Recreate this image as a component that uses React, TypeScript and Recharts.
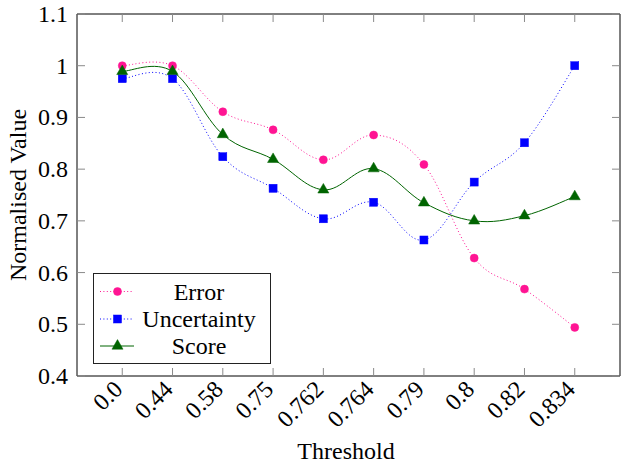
import React from 'react';
import { LineChart, Line, XAxis, YAxis, Legend } from 'recharts';

// Threshold categories along the x axis
const thresholds = ['0.0', '0.44', '0.58', '0.75', '0.762', '0.764', '0.79', '0.8', '0.82', '0.834'];
// Normalised metric values at each threshold
const errorValues = [1.0, 1.0, 0.911, 0.876, 0.818, 0.866, 0.809, 0.628, 0.568, 0.494];
const uncertaintyValues = [0.975, 0.975, 0.824, 0.763, 0.704, 0.736, 0.663, 0.775, 0.851, 1.0];
const scoreValues = [0.989, 0.989, 0.867, 0.819, 0.76, 0.801, 0.735, 0.7, 0.71, 0.747];
const yTicks = [0.4, 0.5, 0.6, 0.7, 0.8, 0.9, 1.0, 1.1];

const xIndexTicks = thresholds.map((_, i) => i);
const data = thresholds.map((t, i) => ({
  idx: i,
  label: t,
  error: errorValues[i],
  uncertainty: uncertaintyValues[i],
  score: scoreValues[i],
}));

const FONT = "'Liberation Serif', 'Times New Roman', serif";
const FS = 24;
const textStyle = { fontFamily: FONT, fontSize: FS };
const PINK = '#ff1493';
const BLUE = '#0000ff';
const GREEN = '#006400';
const TICK_COLOR = '#8a8a8a';
const TICK_LEN = 8;

// Cardinal-style smoothing similar to TikZ "smooth" plots
const K = 0.18;
const smoothCurve = (context: any) => {
  let pts: [number, number][] = [];
  return {
    areaStart() {},
    areaEnd() {},
    lineStart() {
      pts = [];
    },
    lineEnd() {
      if (!pts.length) return;
      context.moveTo(pts[0][0], pts[0][1]);
      for (let i = 0; i < pts.length - 1; i++) {
        const p0 = pts[i - 1] || pts[i];
        const p1 = pts[i];
        const p2 = pts[i + 1];
        const p3 = pts[i + 2] || p2;
        context.bezierCurveTo(
          p1[0] + (p2[0] - p0[0]) * K,
          p1[1] + (p2[1] - p0[1]) * K,
          p2[0] - (p3[0] - p1[0]) * K,
          p2[1] - (p3[1] - p1[1]) * K,
          p2[0],
          p2[1]
        );
      }
    },
    point(x: number, y: number) {
      pts.push([+x, +y]);
    },
  };
};

const circleMark = (cx: number, cy: number, key?: any) => (
  <circle key={key} cx={cx} cy={cy} r={4} fill={PINK} stroke={PINK} strokeWidth={0.5} />
);
const squareMark = (cx: number, cy: number, key?: any) => (
  <rect key={key} x={cx - 4} y={cy - 4} width={8} height={8} fill={BLUE} stroke={BLUE} strokeWidth={0.5} />
);
const triangleMark = (cx: number, cy: number, key?: any) => {
  const r = 6.4;
  const h = r * Math.cos(Math.PI / 6);
  return (
    <polygon
      key={key}
      points={`${cx},${cy - r} ${cx + h},${cy + r / 2} ${cx - h},${cy + r / 2}`}
      fill={GREEN}
      stroke={GREEN}
      strokeWidth={0.5}
    />
  );
};

const series = [
  { key: 'error', name: 'Error', color: PINK, dash: '1 2.4', mark: circleMark },
  { key: 'uncertainty', name: 'Uncertainty', color: BLUE, dash: '1 2.4', mark: squareMark },
  { key: 'score', name: 'Score', color: GREEN, dash: undefined, mark: triangleMark },
];

const BottomTick = (props: any) => {
  const { x, y, payload } = props;
  const label = thresholds[payload.value];
  return (
    <g>
      <line x1={x} y1={y} x2={x} y2={y - TICK_LEN} stroke={TICK_COLOR} strokeWidth={1} />
      <text
        x={0}
        y={0}
        transform={`translate(${x - 4},${y + 9}) rotate(-45)`}
        textAnchor="end"
        dominantBaseline="central"
        style={textStyle}
        fill="#000"
      >
        {label}
      </text>
    </g>
  );
};

const TopTick = (props: any) => {
  const { x, y } = props;
  return <line x1={x} y1={y} x2={x} y2={y + TICK_LEN} stroke={TICK_COLOR} strokeWidth={1} />;
};

const LeftTick = (props: any) => {
  const { x, y, payload } = props;
  const v = Math.round(payload.value * 10) / 10;
  return (
    <g>
      <line x1={x} y1={y} x2={x + TICK_LEN} y2={y} stroke={TICK_COLOR} strokeWidth={1} />
      <text x={x - 9} y={y} textAnchor="end" dominantBaseline="central" style={textStyle} fill="#000">
        {String(v)}
      </text>
    </g>
  );
};

const RightTick = (props: any) => {
  const { x, y } = props;
  return <line x1={x} y1={y} x2={x - TICK_LEN} y2={y} stroke={TICK_COLOR} strokeWidth={1} />;
};

const LegendBox = () => {
  const w = 178;
  const h = 91;
  const rows = [18.5, 46, 73];
  return (
    <svg width={w} height={h} style={{ display: 'block' }}>
      <rect x={0.5} y={0.5} width={w - 1} height={h - 1} fill="#fff" stroke="#222" strokeWidth={1} />
      {series.map((s, i) => (
        <g key={s.key}>
          <line
            x1={7}
            x2={41}
            y1={rows[i]}
            y2={rows[i]}
            stroke={s.color}
            strokeWidth={1}
            strokeDasharray={s.dash}
          />
          {s.mark(24.5, rows[i])}
          <text x={106} y={rows[i]} textAnchor="middle" dominantBaseline="central" style={textStyle} fill="#000">
            {s.name}
          </text>
        </g>
      ))}
    </svg>
  );
};

const axisLine = { stroke: '#000', strokeWidth: 1 };

export default function App() {
  return (
    <div
      style={{
        position: 'absolute',
        left: 0,
        top: 0,
        width: 627,
        height: 468,
        background: '#fff',
        fontFamily: FONT,
      }}
    >
      <LineChart width={627} height={468} data={data} margin={{ top: 9, right: 2, bottom: 32, left: 17 }}>
        <XAxis
          xAxisId="bottom"
          orientation="bottom"
          dataKey="idx"
          type="number"
          domain={[-0.9, 9.9]}
          ticks={xIndexTicks}
          allowDataOverflow
          height={60}
          tickSize={0}
          tickMargin={0}
          tickLine={false}
          tick={<BottomTick />}
          axisLine={axisLine}
          interval={0}
        />
        <XAxis
          xAxisId="top"
          orientation="top"
          dataKey="idx"
          type="number"
          domain={[-0.9, 9.9]}
          ticks={xIndexTicks}
          allowDataOverflow
          height={5}
          tickSize={0}
          tickMargin={0}
          tickLine={false}
          tick={<TopTick />}
          axisLine={axisLine}
          interval={0}
        />
        <YAxis
          yAxisId="left"
          orientation="left"
          type="number"
          domain={[0.4, 1.1]}
          ticks={yTicks}
          allowDataOverflow
          width={60}
          tickSize={0}
          tickMargin={0}
          tickLine={false}
          tick={<LeftTick />}
          axisLine={axisLine}
          interval={0}
        />
        <YAxis
          yAxisId="right"
          orientation="right"
          type="number"
          domain={[0.4, 1.1]}
          ticks={yTicks}
          allowDataOverflow
          width={5}
          tickSize={0}
          tickMargin={0}
          tickLine={false}
          tick={<RightTick />}
          axisLine={axisLine}
          interval={0}
        />
        {series.map((s) => (
          <Line
            key={s.key}
            xAxisId="bottom"
            yAxisId="left"
            dataKey={s.key}
            name={s.name}
            type={smoothCurve as any}
            stroke={s.color}
            strokeWidth={1}
            strokeDasharray={s.dash}
            isAnimationActive={false}
            dot={(p: any) => s.mark(p.cx, p.cy, `${s.key}-${p.index}`)}
            activeDot={false}
          />
        ))}
        <Legend
          layout="horizontal"
          verticalAlign="middle"
          align="center"
          content={() => <LegendBox />}
          wrapperStyle={{ position: 'absolute', left: 93, top: 273, width: 178, height: 91 }}
        />
        <text
          x={18}
          y={195}
          transform="rotate(-90 18 195)"
          textAnchor="middle"
          dominantBaseline="central"
          style={textStyle}
          fill="#000"
        >
          Normalised Value
        </text>
        <text x={346} y={459} textAnchor="middle" style={textStyle} fill="#000">
          Threshold
        </text>
      </LineChart>
    </div>
  );
}
